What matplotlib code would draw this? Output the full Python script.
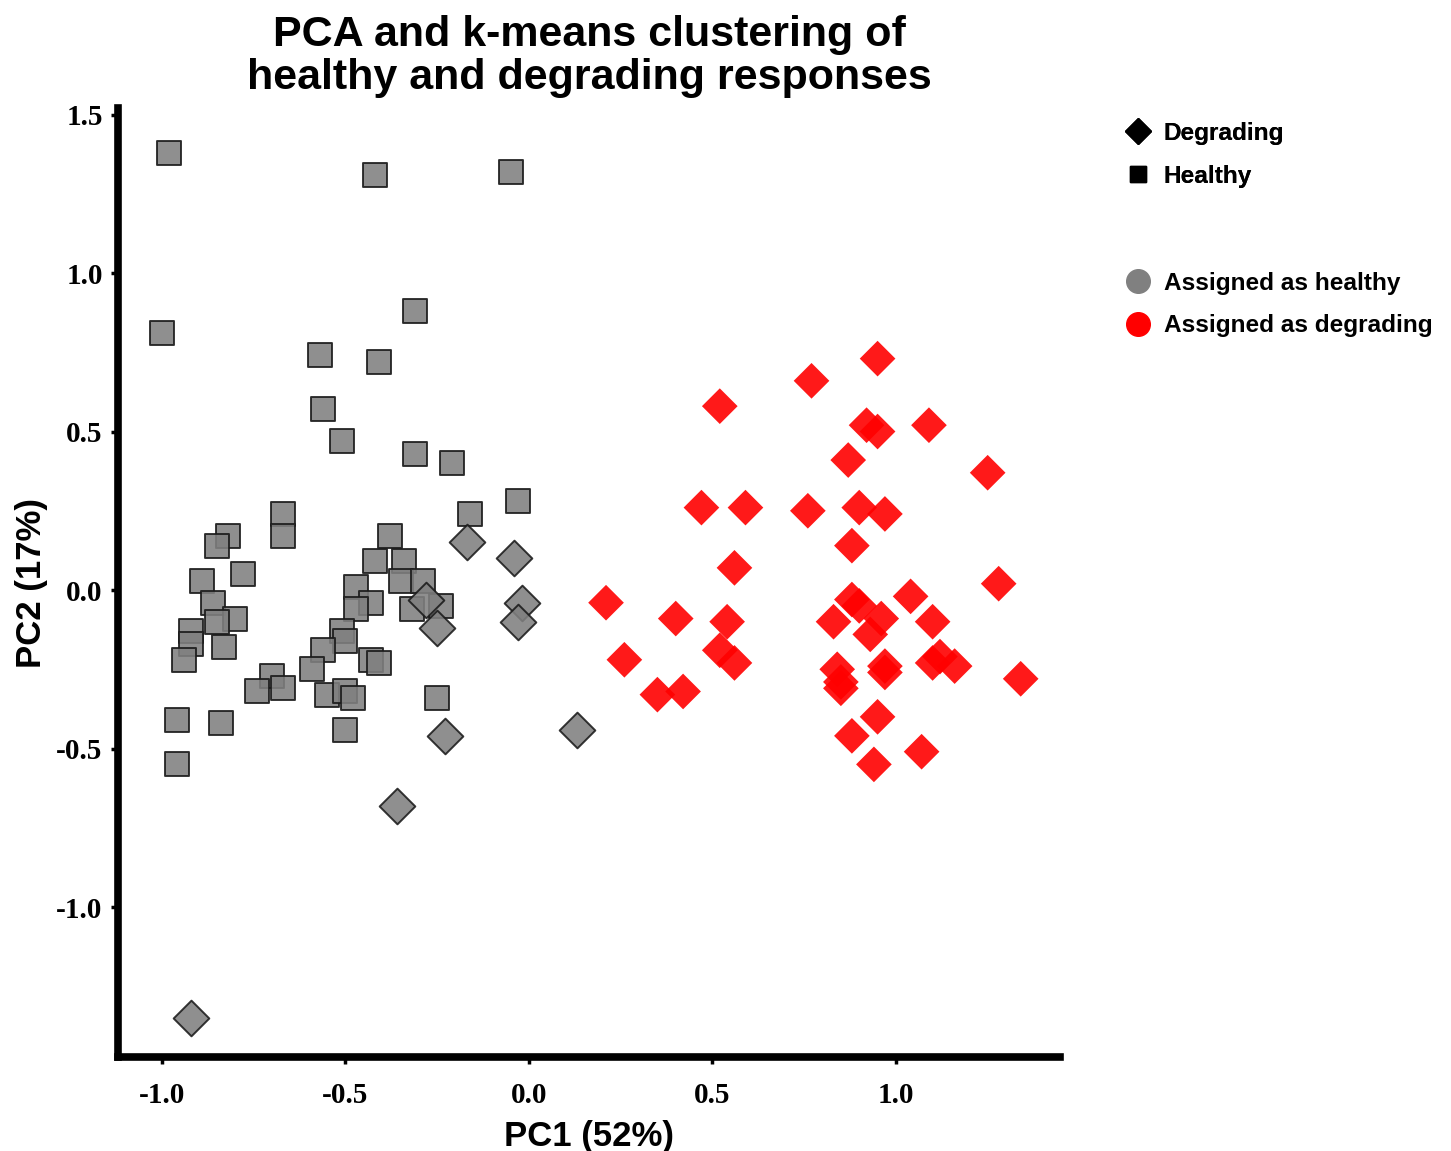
#импорт библиотек
import matplotlib
matplotlib.use("Agg")
import matplotlib.pyplot as plt
from matplotlib.lines import Line2D

# healthy reefs assigned to the healthy cluster (grey squares)
healthy_pc1 = [-0.98, -0.42, -0.05, -1.00, -0.31, -0.57, -0.41, -0.56, -0.51, -0.31,
               -0.21, -0.16, -0.03, -0.67, -0.67, -0.82, -0.85, -0.78, -0.89, -0.86,
               -0.80, -0.85, -0.92, -0.92, -0.94, -0.83, -0.96, -0.84, -0.96, -0.70,
               -0.74, -0.67, -0.38, -0.42, -0.34, -0.35, -0.29, -0.47, -0.43, -0.47,
               -0.32, -0.24, -0.51, -0.50, -0.56, -0.59, -0.43, -0.41, -0.55, -0.50,
               -0.48, -0.50, -0.25]
healthy_pc2 = [1.38, 1.31, 1.32, 0.81, 0.88, 0.74, 0.72, 0.57, 0.47, 0.43,
               0.40, 0.24, 0.28, 0.24, 0.17, 0.17, 0.14, 0.05, 0.03, -0.04,
               -0.09, -0.10, -0.13, -0.17, -0.22, -0.18, -0.41, -0.42, -0.55, -0.27,
               -0.32, -0.31, 0.17, 0.09, 0.09, 0.03, 0.03, 0.01, -0.04, -0.06,
               -0.06, -0.05, -0.13, -0.16, -0.19, -0.25, -0.22, -0.23, -0.33, -0.32,
               -0.34, -0.44, -0.34]

# degrading reefs that k-means put in the healthy cluster (grey diamonds)
degr_as_healthy_pc1 = [-0.17, -0.04, -0.02, -0.03, -0.28, -0.25, -0.23, -0.36, 0.13, -0.92]
degr_as_healthy_pc2 = [0.15, 0.10, -0.04, -0.10, -0.03, -0.12, -0.46, -0.68, -0.44, -1.35]

# degrading reefs assigned as degrading (red diamonds)
degr_pc1 = [0.95, 0.77, 0.52, 0.92, 0.95, 1.09, 0.87, 1.25, 0.47, 0.59,
            0.76, 0.90, 0.97, 0.88, 0.56, 1.28, 0.21, 0.40, 0.54, 1.04,
            0.88, 0.90, 0.96, 0.83, 0.93, 1.10, 0.26, 0.52, 0.56, 0.35,
            0.42, 0.84, 0.85, 0.85, 0.97, 0.97, 1.10, 1.16, 1.12, 1.34,
            0.95, 0.88, 0.94, 1.07]
degr_pc2 = [0.73, 0.66, 0.58, 0.52, 0.50, 0.52, 0.41, 0.37, 0.26, 0.26,
            0.25, 0.26, 0.24, 0.14, 0.07, 0.02, -0.04, -0.09, -0.10, -0.02,
            -0.03, -0.05, -0.09, -0.10, -0.14, -0.10, -0.22, -0.19, -0.23, -0.33,
            -0.32, -0.25, -0.29, -0.31, -0.24, -0.26, -0.23, -0.24, -0.21, -0.28,
            -0.40, -0.46, -0.55, -0.51]

x_ticks = [-1.0, -0.5, 0.0, 0.5, 1.0]
y_ticks = [-1.0, -0.5, 0.0, 0.5, 1.0, 1.5]


def main():
    plt.rcParams["axes.unicode_minus"] = False

    fig = plt.figure(figsize=(14.51, 11.51), dpi=100)
    ax = fig.add_axes([0.0813, 0.0817, 0.6492, 0.8243])

    #точки
    ax.scatter(healthy_pc1, healthy_pc2, marker="s", s=280, color="#808080",
               edgecolors="#1a1a1a", linewidths=1.4, alpha=0.88, zorder=3)
    ax.scatter(degr_as_healthy_pc1, degr_as_healthy_pc2, marker="D", s=330, color="#808080",
               edgecolors="#1a1a1a", linewidths=1.4, alpha=0.88, zorder=3)
    ax.scatter(degr_pc1, degr_pc2, marker="D", s=330, color="#ff0000",
               edgecolors="none", alpha=0.9, zorder=3)

    ax.set_xlim(-1.12, 1.447)
    ax.set_ylim(-1.473, 1.52)

    #оси
    for side in ["top", "right"]:
        ax.spines[side].set_visible(False)
    for side in ["left", "bottom"]:
        ax.spines[side].set_linewidth(5.5)
        ax.spines[side].set_color("black")

    ax.set_xticks(x_ticks)
    ax.set_yticks(y_ticks)
    ax.set_xticklabels([f"{v:.1f}" for v in x_ticks])
    ax.set_yticklabels([f"{v:.1f}" for v in y_ticks])
    ax.tick_params(direction="out", length=5, width=2.5, color="black")
    ax.tick_params(axis="x", pad=13)
    ax.tick_params(axis="y", pad=6)
    for lab in ax.get_xticklabels() + ax.get_yticklabels():
        lab.set_fontfamily("Liberation Serif")
        lab.set_fontweight("bold")
        lab.set_fontsize(21)

    ax.set_xlabel("PC1 (52%)", fontsize=25, fontweight="bold",
                  fontfamily="Liberation Sans", labelpad=8)
    ax.set_ylabel("PC2 (17%)", fontsize=25, fontweight="bold",
                  fontfamily="Liberation Sans", labelpad=6)
    ax.set_title("PCA and k-means clustering of\nhealthy and degrading responses",
                 fontsize=31, fontweight="bold", fontfamily="Liberation Sans",
                 linespacing=1.1, pad=14)

    #легенды
    shape_handles = [
        Line2D([], [], marker="D", linestyle="none", color="black", markersize=13),
        Line2D([], [], marker="s", linestyle="none", color="black", markersize=12),
    ]
    cluster_handles = [
        Line2D([], [], marker="o", linestyle="none", color="#808080", markersize=17),
        Line2D([], [], marker="o", linestyle="none", color="#ff0000", markersize=17),
    ]
    leg_font = {"family": "Liberation Sans", "weight": "bold", "size": 17.6}
    leg1 = fig.legend(shape_handles, ["Degrading", "Healthy"], loc="upper left",
                      bbox_to_anchor=(0.776, 0.894), frameon=False, prop=leg_font,
                      handlelength=1.0, handletextpad=0.55, labelspacing=0.8,
                      borderpad=0, borderaxespad=0)
    fig.add_artist(leg1)
    fig.legend(cluster_handles, ["Assigned as healthy", "Assigned as degrading"],
               loc="upper left", bbox_to_anchor=(0.776, 0.764), frameon=False,
               prop=leg_font, handlelength=1.0, handletextpad=0.55, labelspacing=0.8,
               borderpad=0, borderaxespad=0)

    fig.savefig("out.png", dpi=100)


if __name__ == "__main__":
    main()
